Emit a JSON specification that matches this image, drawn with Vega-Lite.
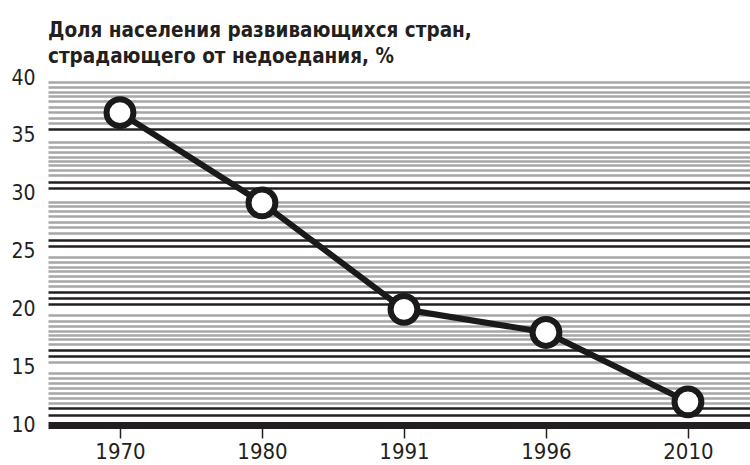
{
  "$schema": "https://vega.github.io/schema/vega-lite/v6.json",
  "width": 702,
  "height": 347,
  "autosize": {"type": "none"},
  "padding": {"left": 48, "top": 78, "right": 0, "bottom": 40},
  "background": "white",
  "config": {"view": {"stroke": null}},
  "title": {
    "text": ["Доля населения развивающихся стран,", "страдающего от недоедания, %"],
    "anchor": "start",
    "frame": "group",
    "font": "DejaVu Sans Condensed, Liberation Sans, sans-serif",
    "fontSize": 20.5,
    "fontWeight": "bold",
    "color": "#231f20",
    "lineHeight": 26,
    "offset": 0
  },
  "data": {
    "values": [
      {"year": "1970", "share": 37.0},
      {"year": "1980", "share": 29.2},
      {"year": "1991", "share": 20.0},
      {"year": "1996", "share": 18.0},
      {"year": "2010", "share": 12.0}
    ]
  },
  "encoding": {
    "x": {
      "field": "year",
      "type": "ordinal",
      "sort": null,
      "scale": {"type": "point", "padding": 0.472, "align": 0.537},
      "axis": {
        "title": null,
        "labelAngle": 0,
        "grid": false,
        "domainColor": "#231f20",
        "domainWidth": 7,
        "tickColor": "#231f20",
        "tickWidth": 1.5,
        "tickSize": 13,
        "labelFont": "DejaVu Sans Condensed, Liberation Sans, sans-serif",
        "labelFontSize": 22,
        "labelColor": "#231f20",
        "labelPadding": 3
      }
    },
    "y": {
      "field": "share",
      "type": "quantitative",
      "scale": {"domain": [10, 40], "nice": false, "zero": false},
      "axis": {
        "title": null,
        "domain": false,
        "ticks": false,
        "tickSize": 0,
        "labelOverlap": false,
        "labelFont": "DejaVu Sans Condensed, Liberation Sans, sans-serif",
        "labelFontSize": 21,
        "labelColor": "#231f20",
        "labelPadding": 13,
        "values": [40, 39.65, 39.19, 38.81, 38.47, 38.01, 37.51, 37.08, 36.56, 36.08, 35.56, 35,
          34.49, 34.05, 33.62, 33.19, 32.82, 32.47, 32.04, 31.61, 31.03, 30.51, 30,
          29.3, 28.93, 28.52, 28.06, 27.57, 27.09, 26.57, 25.99, 25.47, 25,
          24.55, 24.11, 23.68, 23.31, 22.88, 22.45, 22.01, 21.52, 20.95, 20.43, 20,
          19.51, 19.03, 18.6, 18.17, 17.78, 17.41, 17.0, 16.48, 15.96, 15.47, 15,
          14.47, 14.04, 13.6, 13.17, 12.74, 12.31, 11.88, 11.44, 10.86, 10],
        "labelExpr": "datum.value % 5 === 0 ? '' + datum.value : ''",
        "grid": true,
        "gridWidth": 2.5,
        "gridColor": {
          "condition": {"test": "datum.value === 35.56 || datum.value === 31.03 || datum.value === 30.51 || datum.value === 25.99 || datum.value === 25.47 || datum.value === 21.52 || datum.value === 20.95 || datum.value === 20.43 || datum.value === 16.48 || datum.value === 15.96 || datum.value === 11.44 || datum.value === 10.86", "value": "#231f20"},
          "value": "#a6a6a6"
        },
        "gridOpacity": {
          "condition": {"test": "datum.value % 5 === 0", "value": 0},
          "value": 1
        }
      }
    }
  },
  "layer": [
    {"mark": {"type": "line", "color": "#1a1a1a", "strokeWidth": 6}},
    {"mark": {"type": "point", "shape": "circle", "filled": true, "fill": "white", "stroke": "#1a1a1a", "strokeWidth": 6, "size": 720, "opacity": 1}}
  ]
}
